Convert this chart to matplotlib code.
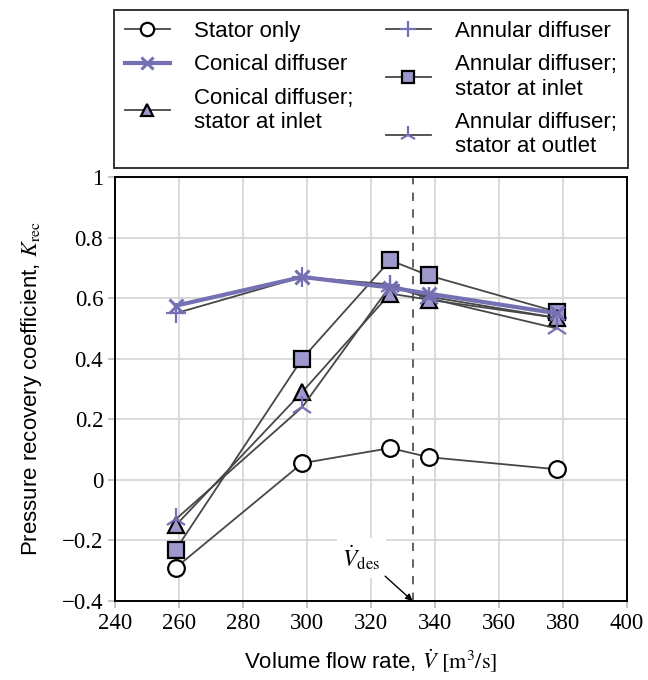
import matplotlib
matplotlib.use('Agg')
import matplotlib.pyplot as plt
from matplotlib.ticker import FuncFormatter

plt.rcParams['font.family'] = 'Liberation Sans'
plt.rcParams['mathtext.fontset'] = 'stix'

flow = [259, 298.5, 326, 338, 378]
stator_only = [-0.29, 0.055, 0.105, 0.075, 0.035]
conical = [0.575, 0.67, 0.635, 0.615, 0.55]
conical_stator_in = [-0.15, 0.29, 0.615, 0.595, 0.535]
annular = [0.55, 0.67, 0.645, 0.605, 0.535]
annular_stator_in = [-0.23, 0.40, 0.725, 0.675, 0.555]
annular_stator_out = [-0.13, 0.24, 0.64, 0.60, 0.50]
design_flow = 333

purple = '#7570b3'
light = '#9d99cc'
dark = '#474747'

fig = plt.figure(figsize=(6.48, 6.8), dpi=100)
ax = fig.add_axes([115 / 648, 0.1162, 512 / 648, 0.6235])

l1, = ax.plot(flow, stator_only, color=dark, lw=1.3, marker='o', ms=12,
              mfc='white', mec='black', mew=1.6, label='Stator only', zorder=3)
l4, = ax.plot(flow, annular, color=dark, lw=1.3, marker='+', ms=14,
              mec=purple, mew=1.6, label='Annular diffuser', zorder=3)
l2, = ax.plot(flow, conical, color=purple, lw=3, marker='x', ms=10,
              mec=purple, mew=2.2, label='Conical diffuser', zorder=4)
l5, = ax.plot(flow, annular_stator_in, color=dark, lw=1.3, marker='s', ms=11,
              mfc=light, mec='black', mew=1.6,
              label='Annular diffuser;\nstator at inlet', zorder=3)
l3, = ax.plot(flow, conical_stator_in, color=dark, lw=1.3, marker='^', ms=11,
              mfc=light, mec='black', mew=1.6,
              label='Conical diffuser;\nstator at inlet', zorder=3)
l6, = ax.plot(flow, annular_stator_out, color=dark, lw=1.3, marker='2', ms=16,
              mec=purple, mew=1.6,
              label='Annular diffuser;\nstator at outlet', zorder=3)

# design point
ax.axvline(design_flow, color=dark, ls=(0, (5, 5)), lw=1.2, zorder=2)
ax.text(317, -0.258, r'$\dot{V}_{\mathrm{des}}$', fontsize=17, ha='center', va='center',
        bbox=dict(fc='white', ec='none', pad=4), zorder=2.5)
ax.annotate('', xy=(design_flow, -0.4), xytext=(324.4, -0.318),
            arrowprops=dict(arrowstyle='-|>', color='black', lw=1, shrinkA=0, shrinkB=0,
                            mutation_scale=10))

ax.set_xlim(240, 400)
ax.set_ylim(-0.4, 1)
ax.set_xticks(range(240, 401, 20))
ax.set_yticks([-0.4, -0.2, 0, 0.2, 0.4, 0.6, 0.8, 1])
ax.yaxis.set_major_formatter(FuncFormatter(
    lambda v, p: ('%g' % round(v, 2)).replace('-', '\u2212')))
for lab in ax.get_xticklabels() + ax.get_yticklabels():
    lab.set_fontfamily('Liberation Serif')
    lab.set_fontsize(16.5)
ax.tick_params(direction='out', length=5, color='#bbbbbb', width=1.2)
ax.grid(color='#d4d4d4', lw=1.2)
ax.set_axisbelow(True)
for s in ax.spines.values():
    s.set_linewidth(1.4)

ax.set_xlabel(r'Volume flow rate, $\dot{V}\ [\mathrm{m}^3/\mathrm{s}]$', fontsize=16, labelpad=10)
ax.set_ylabel(r'Pressure recovery coefficient, $K_{\mathrm{rec}}$', fontsize=16, labelpad=13)

leg = fig.legend(handles=[l1, l2, l3, l4, l5, l6], ncol=2, loc='upper left',
                 bbox_to_anchor=(114 / 648, 1 - 10 / 680, 514 / 648, 0), mode='expand',
                 borderaxespad=0, fontsize=16, frameon=True, fancybox=False,
                 edgecolor='black', handlelength=2.0, handletextpad=1.1, markerscale=0.8,
                 columnspacing=1.0, labelspacing=0.55, borderpad=0.5)
leg.get_frame().set_linewidth(1.4)

fig.savefig('out.png', dpi=100)
